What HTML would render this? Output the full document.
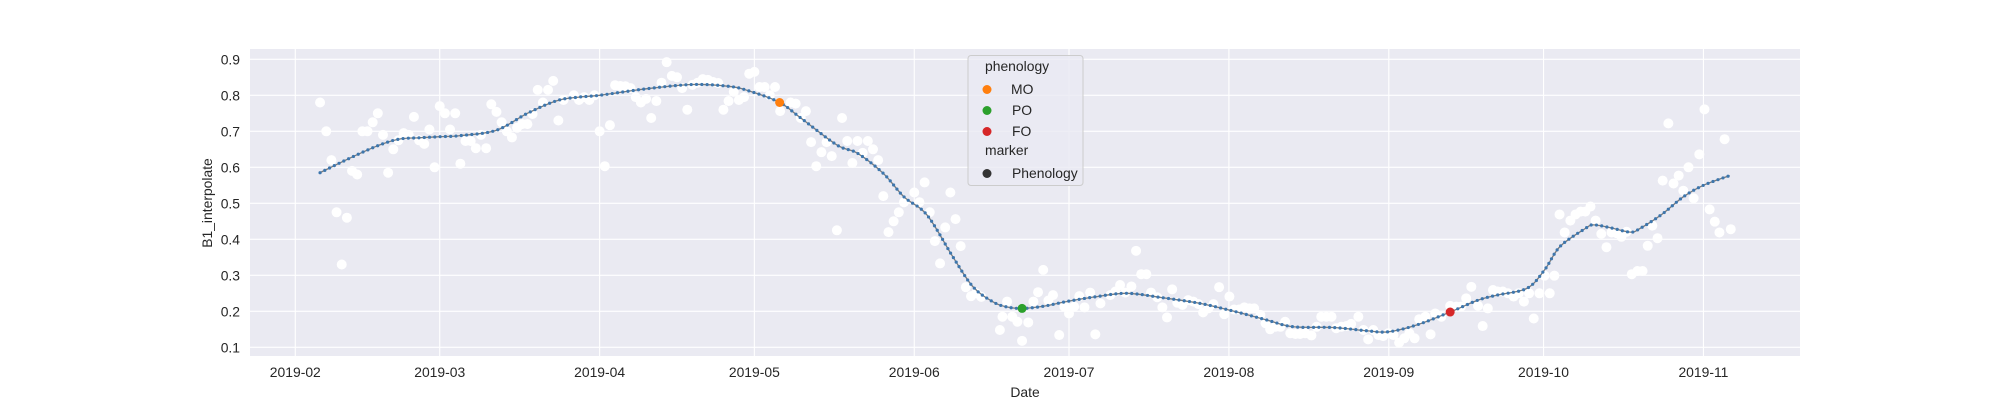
<!DOCTYPE html>
<html><head><meta charset="utf-8"><style>
html,body{margin:0;padding:0;background:#fff;}
svg{display:block;font-family:"Liberation Sans",Arial,sans-serif;}
</style></head><body>
<svg id="chart" width="2000" height="400" viewBox="0 0 2000 400" xmlns="http://www.w3.org/2000/svg">
<rect x="250" y="49" width="1550" height="307" fill="#eaeaf2"/>
<g id="grid"></g>
<g id="ticks" fill="#262626" font-size="13.9"></g>
<g id="scatter"></g>
<path id="fitline" fill="none" stroke="#7a7a7a" stroke-width="1.3"/>
<g id="fitdots"></g>
<g id="pheno"></g>
<text x="0" y="0" transform="translate(212,203) rotate(-90)" text-anchor="middle" font-size="13.9" fill="#262626">B1_interpolate</text>
<text x="1025" y="397" text-anchor="middle" font-size="13.9" fill="#262626">Date</text>
<g>
<rect x="968" y="55.5" width="115" height="130" rx="3" fill="#eaeaf2" fill-opacity="0.8" stroke="#cccccc"/>
<text x="985" y="71" font-size="13.9" fill="#262626">phenology</text>
<circle cx="987" cy="89.5" r="4.5" fill="#ff7f0e"/>
<text x="1011" y="94" font-size="13.9" fill="#262626">MO</text>
<circle cx="987" cy="110.5" r="4.5" fill="#2ca02c"/>
<text x="1012" y="115" font-size="13.9" fill="#262626">PO</text>
<circle cx="987" cy="131.5" r="4.5" fill="#d62728"/>
<text x="1012" y="136" font-size="13.9" fill="#262626">FO</text>
<text x="985" y="155" font-size="13.9" fill="#262626">marker</text>
<circle cx="987" cy="173.5" r="4.5" fill="#333333"/>
<text x="1012" y="178" font-size="13.9" fill="#262626">Phenology</text>
</g>
</svg>
<script>
// days are counted from 2019-02-01
const xTickLabels = ["2019-02","2019-03","2019-04","2019-05","2019-06","2019-07","2019-08","2019-09","2019-10","2019-11"];
const xTickDays = [0,28,59,89,120,150,181,212,242,273];
const yTickValues = [0.1,0.2,0.3,0.4,0.5,0.6,0.7,0.8,0.9];
const obsDay = [4.8,6,7,8,9,10,11,12,13,14,15,16,17,18,19,20,21,22,23,24,25,26,27,28,29,30,31,32,33,34,35,36,37,38,39,40,41,42,43,44,45,46,47,48,49,50,51,52,54,55,56,57,58,59,60,61,62,63,64,65,66,67,68,69,70,71,72,73,74,75,76,77,78,79,80,81,82,83,84,85,86,87,88,89,90,91,92,93,94,96,97,98,99,100,101,102,103,104,105,106,107,108,109,110,111,112,113,114,115,116,117,118,120,121,122,123,124,125,126,127,128,129,130,131,132,133,136.6,137.1,138,139,140,140.9,142.1,143.1,144,145,146,146.9,148.1,149.1,150,151,152,153,154.1,155.1,156.1,158,159,159.9,160.9,162.1,163,164,165,165.9,167.1,168.1,169,170,171,172,173.1,174.1,175.1,176,177,178,179.1,180.1,181.1,182,183,184,185,185.9,187.1,188.1,189,190,191,191.9,192.9,193.9,194.8,195.8,197,198,198.9,199.9,200.9,201.8,202.8,203.8,204.7,206.1,207.1,208,209,210,210.9,211.9,212.9,214,215,216,217,217.9,219.1,220.1,221,222.2,223.9,225.1,226,227,228,229.3,230.2,231.2,232.2,233.1,234.1,235.1,236.2,237.2,238.2,239.2,240.1,241.2,242.2,243.2,244.1,245.1,246.1,247.2,248.2,249.2,250.1,251.1,252.1,253.2,254.2,255.2,256.2,257.1,258.1,259.1,260.2,261.2,262.2,263.1,264.1,265.1,266.2,267.2,268.2,269.1,270.1,271.1,272.2,273.2,274.2,275.2,276.1,277.1,278.3];
const obsVal = [0.78,0.70,0.62,0.475,0.33,0.46,0.59,0.58,0.70,0.70,0.725,0.75,0.69,0.585,0.65,0.675,0.695,0.69,0.74,0.675,0.665,0.705,0.6,0.77,0.75,0.705,0.75,0.61,0.673,0.673,0.653,0.69,0.653,0.775,0.754,0.725,0.70,0.683,0.71,0.72,0.72,0.748,0.815,0.78,0.815,0.84,0.73,0.787,0.8,0.787,0.795,0.787,0.8,0.70,0.603,0.717,0.828,0.826,0.825,0.82,0.795,0.78,0.79,0.737,0.784,0.835,0.892,0.854,0.85,0.82,0.76,0.829,0.835,0.845,0.843,0.837,0.834,0.76,0.784,0.81,0.787,0.795,0.86,0.865,0.823,0.823,0.8,0.823,0.756,0.78,0.777,0.737,0.756,0.67,0.603,0.642,0.67,0.631,0.425,0.737,0.673,0.612,0.673,0.64,0.673,0.65,0.62,0.52,0.42,0.45,0.475,0.503,0.53,0.503,0.558,0.475,0.395,0.333,0.433,0.53,0.456,0.381,0.267,0.242,0.25,0.24,0.148,0.185,0.227,0.185,0.171,0.118,0.169,0.227,0.253,0.315,0.230,0.245,0.134,0.213,0.194,0.213,0.242,0.211,0.252,0.136,0.222,0.245,0.255,0.273,0.252,0.269,0.368,0.303,0.303,0.252,0.239,0.211,0.183,0.261,0.224,0.218,0.231,0.227,0.220,0.197,0.208,0.220,0.267,0.192,0.241,0.205,0.205,0.211,0.208,0.208,0.190,0.167,0.150,0.157,0.157,0.171,0.139,0.137,0.137,0.139,0.133,0.157,0.185,0.185,0.185,0.153,0.157,0.159,0.165,0.185,0.148,0.122,0.148,0.134,0.131,0.139,0.134,0.113,0.125,0.139,0.125,0.178,0.185,0.136,0.194,0.185,0.215,0.213,0.213,0.236,0.268,0.215,0.159,0.208,0.259,0.255,0.255,0.250,0.241,0.250,0.227,0.250,0.180,0.250,0.299,0.250,0.299,0.469,0.419,0.452,0.469,0.477,0.477,0.491,0.452,0.415,0.378,0.419,0.417,0.407,0.421,0.303,0.312,0.312,0.382,0.438,0.403,0.563,0.722,0.555,0.577,0.535,0.600,0.514,0.636,0.761,0.483,0.449,0.419,0.678,0.428];
const fitDay = [4.8,10.5,16,20,24,28,32,39,45,50.7,55,59,68,77,84,88,93.9,98,105,109,114,118,122.5,127.5,131.4,135.3,138,141,145,149.5,155,161.2,168,175.4,182,188.3,193.5,201.2,207.7,211.9,217.4,223.9,229.3,233,238.8,242.2,245.2,250.1,251.7,255,258.8,260.7,265,269.1,273,278.1];
const fitVal = [0.585,0.625,0.66,0.678,0.682,0.685,0.688,0.703,0.75,0.785,0.795,0.80,0.818,0.83,0.825,0.812,0.78,0.737,0.662,0.639,0.583,0.518,0.467,0.351,0.268,0.226,0.212,0.208,0.214,0.227,0.24,0.25,0.238,0.222,0.2,0.176,0.157,0.155,0.146,0.143,0.162,0.198,0.231,0.245,0.264,0.315,0.38,0.43,0.44,0.432,0.42,0.43,0.47,0.518,0.55,0.577];
const phenoLabels = ["MO","PO","FO"];
const phenoDay = [93.9,140.9,223.9];
const phenoVal = [0.78,0.208,0.198];
const phenoColors = ["#ff7f0e","#2ca02c","#d62728"];

const NS = "http://www.w3.org/2000/svg";
const X0 = 295.3, PXD = 5.158, Y09 = 59.3, PXV = 360;
function xs(d){ return X0 + d*PXD; }
function ys(v){ return Y09 + (0.9 - v)*PXV; }
function mk(tag, attrs, parent){ const e=document.createElementNS(NS,tag); for(const k in attrs) e.setAttribute(k,attrs[k]); parent.appendChild(e); return e; }

const grid = document.getElementById('grid');
const ticks = document.getElementById('ticks');
xTickDays.forEach((d,i)=>{
  const l = mk('line',{x1:xs(d),x2:xs(d),y1:49,y2:356,stroke:'#fff','stroke-width':1.1},grid);
  
  
  const t = mk('text',{x:xs(d),y:377,'text-anchor':'middle'},ticks);
  t.textContent = xTickLabels[i];
  
  
});
yTickValues.forEach(v=>{
  const l = mk('line',{x1:250,x2:1800,y1:ys(v),y2:ys(v),stroke:'#fff','stroke-width':1.1},grid);
  
  
  const t = mk('text',{x:240,y:ys(v)+5,'text-anchor':'end'},ticks);
  t.textContent = v.toFixed(1);
  
  
});

const sc = document.getElementById('scatter');
obsDay.forEach((d,i)=>{
  const c = mk('circle',{cx:xs(d),cy:ys(obsVal[i]),r:5,fill:'#ffffff'},sc);
  
  
});

// smooth line through fit points (Catmull-Rom)
const pts = fitDay.map((d,i)=>[xs(d),ys(fitVal[i])]);
let dstr = 'M'+pts[0][0]+','+pts[0][1];
for(let i=0;i<pts.length-1;i++){
  const p0=pts[Math.max(0,i-1)], p1=pts[i], p2=pts[i+1], p3=pts[Math.min(pts.length-1,i+2)];
  const c1=[p1[0]+(p2[0]-p0[0])/6, p1[1]+(p2[1]-p0[1])/6];
  const c2=[p2[0]-(p3[0]-p1[0])/6, p2[1]-(p3[1]-p1[1])/6];
  dstr += ' C'+c1[0]+','+c1[1]+' '+c2[0]+','+c2[1]+' '+p2[0]+','+p2[1];
}
const path = document.getElementById('fitline');
path.setAttribute('d',dstr);
const fd = document.getElementById('fitdots');
const L = path.getTotalLength();
for(let s=0;s<=L;s+=5.3){
  const p = path.getPointAtLength(s);
  const c = mk('circle',{cx:p.x,cy:p.y,r:1.6,fill:'#3d76ad'},fd);
  
  
}

const ph = document.getElementById('pheno');
phenoDay.forEach((d,i)=>{
  const c = mk('circle',{cx:xs(d),cy:ys(phenoVal[i]),r:4.5,fill:phenoColors[i]},ph);
  
  
});
</script>
</body></html>
